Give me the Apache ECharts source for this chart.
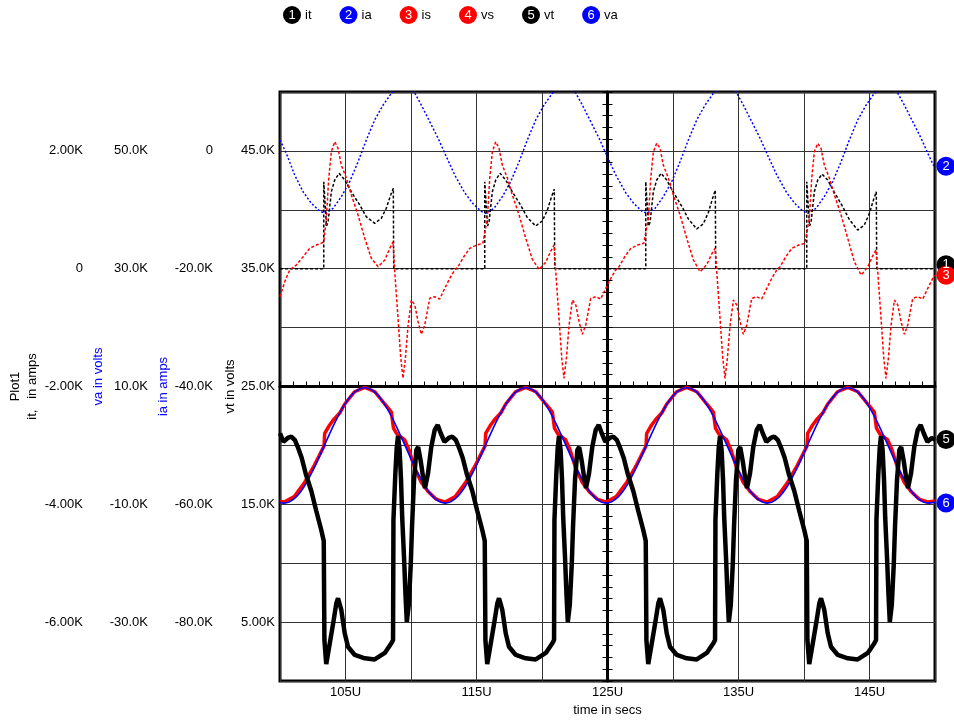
<!DOCTYPE html>
<html>
<head>
<meta charset="utf-8">
<script src="https://cdn.jsdelivr.net/npm/echarts@6/dist/echarts.min.js"></script>
<style>
  html, body { margin: 0; padding: 0; background: #ffffff; }
  #chart { width: 954px; height: 721px; }
</style>
</head>
<body>
<div id="chart"></div>
<script>
// ---- tick labels -------------------------------------------------------
const timeTicks = [105, 115, 125, 135, 145];          // time in µs
const itTicks = [2000, 0, -2000, -4000, -6000];       // amps
const vaTicks = [50000, 30000, 10000, -10000, -30000]; // volts
const iaTicks = [0, -20000, -40000, -60000, -80000];  // amps
const vtTicks = [45000, 35000, 25000, 15000, 5000];   // volts

// ---- series: [time (µs), value] ---------------------------------------
const itData = [
  [100, 0],
  [103.34, 0], [103.34, 1477], [103.39, 1472], [103.55, 725], [103.67, 790], [103.92, 1307], [104.18, 1506], [104.51, 1620], [104.94, 1506], [105.44, 1307], [106.09, 1081], [106.58, 883], [107.23, 771], [107.73, 855], [108.11, 1025], [108.45, 1251], [108.65, 1365], [108.68, 0],
  [115.63, 0], [115.63, 1477], [115.68, 1472], [115.84, 725], [115.96, 790], [116.21, 1307], [116.47, 1506], [116.80, 1620], [117.23, 1506], [117.73, 1307], [118.38, 1075], [118.87, 870], [119.52, 725], [120.02, 810], [120.40, 990], [120.74, 1230], [120.94, 1350], [120.97, 0],
  [127.92, 0], [127.92, 1477], [127.97, 1472], [128.13, 725], [128.25, 790], [128.50, 1307], [128.76, 1506], [129.09, 1620], [129.52, 1506], [130.02, 1300], [130.67, 1060], [131.16, 850], [131.81, 675], [132.31, 760], [132.69, 950], [133.03, 1200], [133.23, 1335], [133.26, 0],
  [140.21, 0], [140.21, 1477], [140.26, 1472], [140.42, 725], [140.54, 790], [140.79, 1307], [141.05, 1506], [141.38, 1605], [141.81, 1506], [142.31, 1300], [142.96, 1050], [143.45, 840], [144.10, 655], [144.60, 740], [144.98, 930], [145.32, 1180], [145.52, 1305], [145.55, 0],
  [150, 0]
];

const iaData = [
  [100, 1850], [100.48, -409], [101.12, -4093], [101.76, -6929], [102.39, -8899], [103.03, -10206],
  [103.42, -10600], [104.05, -9750], [104.68, -7780], [105.32, -5230], [105.96, -1840], [106.59, 1850], [107.23, 5250], [107.87, 7790], [108.50, 9780], [109.37, 11190], [110.23, 10050], [110.79, 7790], [111.43, 4960], [112.07, 2140], [112.70, -990], [113.34, -4090], [114.10, -7100], [114.71, -8900], [115.32, -10210],
  [115.71, -10600], [116.34, -9750], [116.97, -7780], [117.61, -5230], [118.25, -1840], [118.88, 1850], [119.52, 5250], [120.16, 7790], [120.79, 9780], [121.66, 11190], [122.52, 10050], [123.08, 7790], [123.72, 4960], [124.36, 2140], [124.99, -990], [125.63, -4090], [126.39, -7100], [127.00, -8900], [127.61, -10210],
  [128.00, -10600], [128.63, -9750], [129.26, -7780], [129.90, -5230], [130.54, -1840], [131.17, 1850], [131.81, 5250], [132.45, 7790], [133.08, 9780], [133.95, 11190], [134.81, 10050], [135.37, 7790], [136.01, 4960], [136.65, 2140], [137.28, -990], [137.92, -4090], [138.68, -7100], [139.29, -8900], [139.90, -10210],
  [140.29, -10600], [140.92, -9750], [141.55, -7780], [142.19, -5230], [142.83, -1840], [143.46, 1850], [144.10, 5250], [144.74, 7790], [145.37, 9780], [146.24, 11190], [147.10, 10050], [147.66, 7790], [148.30, 4960], [148.94, 2140], [149.57, -990], [150, -2950]
];

const isData = [
  [100, -476], [100.36, -221], [100.74, -22], [101.24, 62], [101.76, 203], [102.27, 346], [102.77, 402], [103.15, 431],
  [103.34, 458], [103.54, 855], [103.72, 1535], [103.92, 1986], [104.18, 2156], [104.43, 2044], [104.68, 1760], [105.07, 1535], [105.45, 1251], [105.96, 911], [106.47, 516], [106.97, 176], [107.49, 34], [108.00, 147], [108.38, 346], [108.63, 458], [108.76, -51], [109.01, -843], [109.22, -1522], [109.39, -1861], [109.57, -1522], [109.78, -956], [110.03, -532], [110.29, -617], [110.54, -900], [110.79, -1114], [111.05, -956], [111.43, -503], [111.81, -476], [112.19, -515], [112.58, -333], [112.96, -163], [113.34, -22], [113.59, 34], [114.03, 203], [114.49, 346], [115.02, 402], [115.48, 431],
  [115.63, 458], [115.83, 855], [116.01, 1535], [116.21, 1986], [116.47, 2156], [116.72, 2044], [116.97, 1760], [117.36, 1535], [117.74, 1251], [118.25, 911], [118.76, 516], [119.26, 160], [119.78, -11], [120.29, 110], [120.67, 300], [120.92, 402], [121.05, -51], [121.30, -843], [121.51, -1522], [121.68, -1861], [121.86, -1522], [122.07, -956], [122.32, -532], [122.58, -617], [122.83, -900], [123.08, -1114], [123.34, -956], [123.72, -503], [124.10, -476], [124.48, -515], [124.87, -333], [125.25, -163], [125.63, -22], [125.88, 34], [126.32, 203], [126.78, 346], [127.31, 402], [127.77, 431],
  [127.92, 458], [128.12, 855], [128.30, 1535], [128.50, 1986], [128.76, 2129], [129.01, 2044], [129.26, 1760], [129.65, 1535], [130.03, 1251], [130.54, 911], [131.05, 516], [131.55, 150], [132.07, -51], [132.58, 70], [132.96, 250], [133.21, 346], [133.34, -51], [133.59, -843], [133.80, -1522], [133.97, -1861], [134.15, -1522], [134.36, -956], [134.61, -532], [134.87, -617], [135.12, -900], [135.37, -1114], [135.63, -956], [136.01, -503], [136.39, -476], [136.77, -515], [137.16, -333], [137.54, -163], [137.92, -22], [138.17, 34], [138.61, 203], [139.07, 346], [139.60, 402], [140.06, 431],
  [140.21, 458], [140.41, 855], [140.59, 1535], [140.79, 1986], [141.05, 2129], [141.30, 2044], [141.55, 1760], [141.94, 1535], [142.32, 1251], [142.83, 911], [143.34, 516], [143.84, 120], [144.36, -107], [144.87, 30], [145.25, 220], [145.50, 317], [145.63, -51], [145.88, -843], [146.09, -1522], [146.26, -1861], [146.44, -1522], [146.65, -956], [146.90, -532], [147.16, -617], [147.41, -900], [147.66, -1114], [147.92, -956], [148.30, -503], [148.68, -476], [149.06, -515], [149.45, -333], [149.83, -163], [150, -110]
];

const vsData = [
  [100, -9500],
  [100.32, -9620], [101.09, -8680], [101.85, -6390], [102.63, -3340], [103.36, -110], [103.41, 2050], [103.79, 3460], [104.17, 4590], [104.56, 5490], [104.93, 6990], [105.69, 9110], [106.47, 9860], [107.24, 9110], [108.01, 6990], [108.50, 5660], [108.66, 2950], [108.93, 1930], [109.24, 1420], [109.50, 990], [109.62, 740], [109.85, -790], [110.28, -3850], [110.79, -6310], [111.30, -7840], [111.91, -9110],
  [112.61, -9620], [113.38, -8680], [114.14, -6390], [114.92, -3340], [115.65, -110], [115.70, 2050], [116.08, 3460], [116.46, 4590], [116.85, 5490], [117.22, 6990], [117.98, 9110], [118.76, 9860], [119.53, 9110], [120.30, 6990], [120.79, 5660], [120.95, 2950], [121.22, 1930], [121.53, 1420], [121.79, 990], [121.91, 740], [122.14, -790], [122.57, -3850], [123.08, -6310], [123.59, -7840], [124.20, -9110],
  [124.90, -9620], [125.67, -8680], [126.43, -6390], [127.21, -3340], [127.94, -110], [127.99, 2050], [128.37, 3460], [128.75, 4590], [129.14, 5490], [129.51, 6990], [130.27, 9110], [131.05, 9860], [131.82, 9110], [132.59, 6990], [133.08, 5660], [133.24, 2950], [133.51, 1930], [133.82, 1420], [134.08, 990], [134.20, 740], [134.43, -790], [134.86, -3850], [135.37, -6310], [135.88, -7840], [136.49, -9110],
  [137.19, -9620], [137.96, -8680], [138.72, -6390], [139.50, -3340], [140.23, -110], [140.28, 2050], [140.66, 3460], [141.04, 4590], [141.43, 5490], [141.80, 6990], [142.56, 9110], [143.34, 9860], [144.11, 9110], [144.88, 6990], [145.37, 5660], [145.53, 2950], [145.80, 1930], [146.11, 1420], [146.37, 990], [146.49, 740], [146.72, -790], [147.15, -3850], [147.66, -6310], [148.17, -7840], [148.78, -9110],
  [149.48, -9620], [150, -9450]
];

const vaData = [
  [100, -9700],
  [100.32, -9800], [101.09, -9050], [101.86, -6930], [102.62, -3750], [103.39, 0], [104.16, 3750], [104.93, 6930], [105.70, 9050], [106.47, 9800], [107.23, 9050], [108.00, 6930], [108.77, 3750], [109.54, 0], [110.31, -3750], [111.07, -6930], [111.84, -9050],
  [112.61, -9800], [113.38, -9050], [114.15, -6930], [114.91, -3750], [115.68, 0], [116.45, 3750], [117.22, 6930], [117.99, 9050], [118.76, 9800], [119.52, 9050], [120.29, 6930], [121.06, 3750], [121.83, 0], [122.60, -3750], [123.36, -6930], [124.13, -9050],
  [124.90, -9800], [125.67, -9050], [126.44, -6930], [127.20, -3750], [127.97, 0], [128.74, 3750], [129.51, 6930], [130.28, 9050], [131.05, 9800], [131.81, 9050], [132.58, 6930], [133.35, 3750], [134.12, 0], [134.89, -3750], [135.65, -6930], [136.42, -9050],
  [137.19, -9800], [137.96, -9050], [138.73, -6930], [139.49, -3750], [140.26, 0], [141.03, 3750], [141.80, 6930], [142.57, 9050], [143.34, 9800], [144.10, 9050], [144.87, 6930], [145.64, 3750], [146.41, 0], [147.18, -3750], [147.94, -6930], [148.71, -9050],
  [149.48, -9800], [150, -9600]
];

const vtData = [
  [100, 21030], [100.26, 20310], [100.59, 20630], [100.86, 20740], [101.13, 20460], [101.36, 19860], [101.66, 18930], [101.97, 17570], [102.39, 16130], [102.77, 14430], [103.15, 12820],
  [103.34, 11880], [103.39, 3480], [103.53, 1440], [103.80, 3200], [104.05, 4840], [104.30, 6600], [104.43, 7020], [104.68, 6030], [104.94, 4050], [105.19, 2910], [105.71, 2210], [106.47, 1930], [107.23, 1830], [108.00, 2380], [108.50, 3200], [108.63, 3480], [108.66, 13670], [108.80, 17490], [108.91, 19780], [109.01, 20800], [109.13, 19610], [109.24, 17060], [109.33, 13840], [109.47, 10440], [109.58, 7300], [109.68, 5010], [109.83, 6450], [109.98, 9850], [110.08, 13160], [110.23, 17060], [110.41, 19610], [110.55, 19860], [110.74, 18680], [110.92, 17320], [111.07, 16380], [111.30, 17630], [111.55, 19890], [111.81, 21310], [112.04, 21730], [112.27, 21030], [112.55, 20310], [112.88, 20630], [113.15, 20740], [113.42, 20460], [113.65, 19860], [113.95, 18930], [114.26, 17570], [114.68, 16130], [115.06, 14430], [115.44, 12820],
  [115.63, 11880], [115.68, 3480], [115.82, 1440], [116.09, 3200], [116.34, 4840], [116.59, 6600], [116.72, 7020], [116.97, 6030], [117.23, 4050], [117.48, 2910], [118.00, 2210], [118.76, 1930], [119.52, 1830], [120.29, 2380], [120.79, 3200], [120.92, 3480], [120.95, 13670], [121.09, 17490], [121.20, 19780], [121.30, 20800], [121.42, 19610], [121.53, 17060], [121.62, 13840], [121.76, 10440], [121.87, 7300], [121.97, 5010], [122.12, 6450], [122.27, 9850], [122.37, 13160], [122.52, 17060], [122.70, 19610], [122.84, 19860], [123.03, 18680], [123.21, 17320], [123.36, 16380], [123.59, 17630], [123.84, 19890], [124.10, 21310], [124.33, 21730], [124.56, 21030], [124.84, 20310], [125.17, 20630], [125.44, 20740], [125.71, 20460], [125.94, 19860], [126.24, 18930], [126.55, 17570], [126.97, 16130], [127.35, 14430], [127.73, 12820],
  [127.92, 11880], [127.97, 3480], [128.11, 1440], [128.38, 3200], [128.63, 4840], [128.88, 6600], [129.01, 7020], [129.26, 6030], [129.52, 4050], [129.77, 2910], [130.29, 2210], [131.05, 1930], [131.81, 1830], [132.58, 2380], [133.08, 3200], [133.21, 3480], [133.24, 13670], [133.38, 17490], [133.49, 19780], [133.59, 20800], [133.71, 19610], [133.82, 17060], [133.91, 13840], [134.05, 10440], [134.16, 7300], [134.26, 5010], [134.41, 6450], [134.56, 9850], [134.66, 13160], [134.81, 17060], [134.99, 19610], [135.13, 19860], [135.32, 18680], [135.50, 17320], [135.65, 16380], [135.88, 17630], [136.13, 19890], [136.39, 21310], [136.62, 21730], [136.85, 21030], [137.13, 20310], [137.46, 20630], [137.73, 20740], [138.00, 20460], [138.23, 19860], [138.53, 18930], [138.84, 17570], [139.26, 16130], [139.64, 14430], [140.02, 12820],
  [140.21, 11880], [140.26, 3480], [140.40, 1440], [140.67, 3200], [140.92, 4840], [141.17, 6600], [141.30, 7020], [141.55, 6030], [141.81, 4050], [142.06, 2910], [142.58, 2210], [143.34, 1930], [144.10, 1830], [144.87, 2380], [145.37, 3200], [145.50, 3480], [145.53, 13670], [145.67, 17490], [145.78, 19780], [145.88, 20800], [146.00, 19610], [146.11, 17060], [146.20, 13840], [146.34, 10440], [146.45, 7300], [146.55, 5010], [146.70, 6450], [146.85, 9850], [146.95, 13160], [147.10, 17060], [147.28, 19610], [147.42, 19860], [147.61, 18680], [147.79, 17320], [147.94, 16380], [148.17, 17630], [148.42, 19890], [148.68, 21310], [148.91, 21730], [149.14, 21030], [149.42, 20310], [149.75, 20630], [150, 20500]
];

// ---- look & feel -------------------------------------------------------
const FONT = '"Liberation Sans", Arial, Helvetica, sans-serif';
const BLACK = '#000000', BLUE = '#0000ff', RED = '#ff0000';
const legendOrder = ['it', 'ia', 'is', 'vs', 'vt', 'va'];
const legendKey = { it: 'k', ia: 'b', is: 'r', vs: 'r', vt: 'k', va: 'b' };
const baseText = { fontFamily: FONT, fontSize: 13, color: BLACK };

function kfmt(v) {
  if (v === 0) return '0';
  const k = v / 1000;
  return (Math.abs(k) >= 10 ? k.toFixed(1) : k.toFixed(2)) + 'K';
}

function labelAxis(name, min, max, interval, ticks, offset, nameColor, nameGap, extra) {
  return Object.assign({
    type: 'value', position: 'left', offset: offset,
    min: min, max: max, interval: interval,
    name: name, nameLocation: 'middle', nameGap: nameGap, nameRotate: 90, nameMoveOverlap: false,
    nameTextStyle: Object.assign({}, baseText, { color: nameColor, lineHeight: 17 }),
    axisLine: { show: false }, axisTick: { show: false }, splitLine: { show: false },
    axisLabel: Object.assign({}, baseText, {
      margin: 5,
      formatter: v => (ticks.indexOf(v) >= 0 ? kfmt(v) : '')
    })
  }, extra || {});
}

function endMarker(num, data, color, dy) {
  return {
    symbol: 'circle', symbolSize: 19, symbolOffset: [11, dy],
    itemStyle: { color: color },
    label: { show: true, position: 'inside', formatter: String(num), color: '#ffffff', fontFamily: FONT, fontSize: 13 },
    data: [{ coord: data[data.length - 1] }],
    silent: true
  };
}

function trace(name, data, yIdx, color, width, type, marker, extra) {
  const s = {
    name: name, type: 'line', data: data,
    xAxisIndex: 0, yAxisIndex: yIdx,
    showSymbol: false, symbol: 'none', silent: true,
    lineStyle: { color: color, width: width, type: type },
    itemStyle: { color: color }
  };
  if (marker) s.markPoint = marker;
  return Object.assign(s, extra || {});
}

const chipStyle = c => ({ backgroundColor: c, color: '#fff', borderRadius: 9, width: 18, height: 18, lineHeight: 18, align: 'center', verticalAlign: 'middle', fontSize: 13, fontFamily: FONT });

const chart = echarts.init(document.getElementById('chart'), null, { renderer: 'canvas' });

chart.setOption({
  animation: false,
  backgroundColor: '#ffffff',
  textStyle: { fontFamily: FONT },
  grid: { left: 280, top: 92, width: 655, height: 589, containLabel: false, outerBoundsMode: 'none',
          show: true, borderColor: BLACK, borderWidth: 3, backgroundColor: 'transparent' },
  legend: {
    data: legendOrder, left: 277, top: 6, padding: 0, icon: 'none', itemWidth: 1, itemHeight: 18, itemGap: 22,
    selectedMode: false,
    formatter: name => '{' + legendKey[name] + '|' + (legendOrder.indexOf(name) + 1) + '}{t|' + name + '}',
    textStyle: {
      fontFamily: FONT, fontSize: 13, color: BLACK,
      rich: {
        k: chipStyle(BLACK), b: chipStyle(BLUE), r: chipStyle(RED),
        t: { padding: [0, 0, 0, 4], color: BLACK, fontSize: 13, fontFamily: FONT }
      }
    }
  },
  xAxis: [
    {
      type: 'value', min: 100, max: 150, interval: 5, position: 'bottom',
      name: 'time in secs', nameLocation: 'middle', nameGap: 20, nameTextStyle: baseText,
      axisLine: { show: false }, axisTick: { show: false },
      splitLine: { show: true, lineStyle: { color: '#333333', width: 1 } },
      axisLabel: Object.assign({}, baseText, { margin: 5, formatter: v => (timeTicks.indexOf(v) >= 0 ? v + 'U' : '') })
    },
    {
      // horizontal centre line with 1U ticks
      type: 'value', min: 100, max: 150, interval: 1, position: 'bottom', offset: -294.5,
      axisLine: { show: true, lineStyle: { color: BLACK, width: 3 } },
      axisTick: { show: true, inside: true, length: 5, lineStyle: { color: BLACK, width: 1 } },
      axisLabel: { show: false }, splitLine: { show: false }
    }
  ],
  yAxis: [
    labelAxis('Plot1\nit,   in amps', -7000, 3000, 1000, itTicks, 192, BLACK, 47),
    labelAxis('va in volts', -40000, 60000, 10000, vaTicks, 127, BLUE, 48,
      { nameTextStyle: Object.assign({}, baseText, { color: BLUE, padding: [0, 0, 0, 20] }) }),
    labelAxis('ia in amps', -90000, 10000, 10000, iaTicks, 62, BLUE, 46),
    labelAxis('vt in volts', 0, 50000, 5000, vtTicks, 0, BLACK, 41,
      { splitLine: { show: true, lineStyle: { color: '#333333', width: 1 } } }),
    {
      // vertical centre line, ticks on the left side
      type: 'value', min: 0, max: 50, interval: 1, position: 'left', offset: -327.5,
      axisLine: { show: true, lineStyle: { color: BLACK, width: 3 } },
      axisTick: { show: true, inside: false, length: 5, lineStyle: { color: BLACK, width: 1 } },
      axisLabel: { show: false }, splitLine: { show: false }
    },
    {
      // vertical centre line, ticks on the right side
      type: 'value', min: 0, max: 50, interval: 1, position: 'left', offset: -327.5,
      axisLine: { show: false },
      axisTick: { show: true, inside: true, length: 5, lineStyle: { color: BLACK, width: 1 } },
      axisLabel: { show: false }, splitLine: { show: false }
    }
  ],
  series: [
    trace('ia', iaData, 2, BLUE, 1.5, [2, 2], endMarker(2, iaData, BLUE, -2)),
    trace('it', itData, 0, BLACK, 1.5, [3, 2], endMarker(1, itData, BLACK, -4)),
    trace('is', isData, 0, RED, 1.5, [3, 2], endMarker(3, isData, RED, 0)),
    trace('vs', vsData, 1, RED, 3.5, 'solid', null),
    trace('va', vaData, 1, BLUE, 1.6, 'solid', endMarker(6, vaData, BLUE, 1), { smooth: 0.3 }),
    trace('vt', vtData, 3, BLACK, 4.5, 'solid', endMarker(5, vtData, BLACK, 0))
  ]
});
</script>
</body>
</html>
